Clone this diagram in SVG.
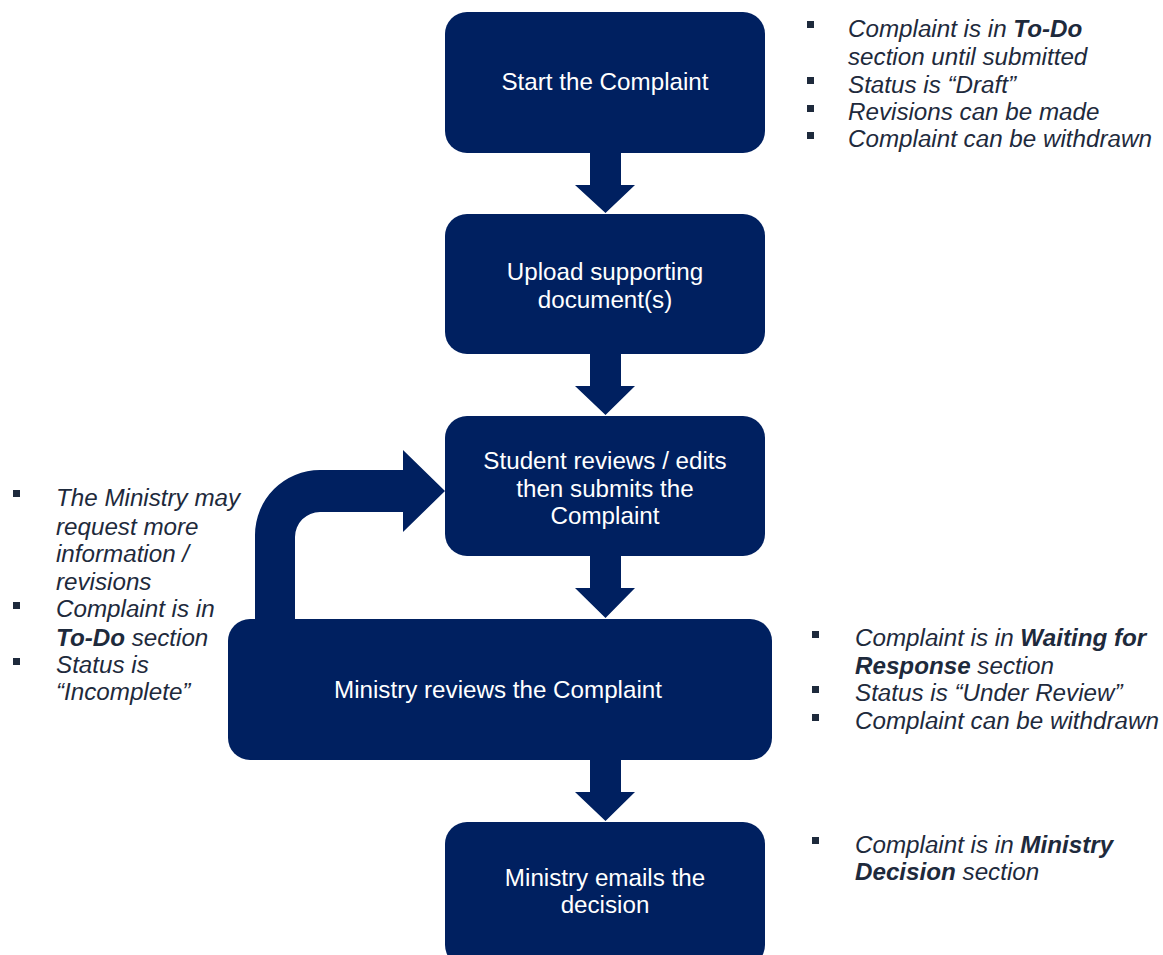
<svg xmlns="http://www.w3.org/2000/svg" width="1163" height="955" viewBox="0 0 1163 955">
<style>
.box{fill:#002060}
.lbl{font-family:"Liberation Sans",Arial,sans-serif;font-size:24.2px;fill:#ffffff;text-anchor:middle}
.note{font-family:"Liberation Sans",Arial,sans-serif;font-size:24.2px;font-style:italic;fill:#1e2a3c}
.b{font-weight:bold}
.sq{fill:#1e2a3c}
.arr{fill:#002060}
</style>
<rect width="1163" height="955" fill="#ffffff"/>
<g id="connectors">
<polygon class="arr" points="590,153 621,153 621,185 635,185 605.5,213 575,185 590,185"/>
<polygon class="arr" points="590,354 621,354 621,386 635,386 605.5,415 575,386 590,386"/>
<polygon class="arr" points="590,556 621,556 621,588 635,588 605.5,618 575,588 590,588"/>
<polygon class="arr" points="590,760 621,760 621,792 635,792 605.5,821 575,792 590,792"/>
<path class="arr" d="M255,622 L255,535 A65,65 0 0 1 320,470 L403,470 L403,450 L445,491 L403,532 L403,512 L320,512 A25,25 0 0 0 295,537 L295,622 Z"/>
</g>
<g id="n1">
<rect class="box" x="445" y="12" width="320" height="141" rx="22"/>
<text class="lbl" x="605" y="90">Start the Complaint</text>
</g>
<g id="n2">
<rect class="box" x="445" y="214" width="320" height="140" rx="22"/>
<text class="lbl" x="605" y="280">Upload supporting</text>
<text class="lbl" x="605" y="308">document(s)</text>
</g>
<g id="n3">
<rect class="box" x="445" y="416" width="320" height="140" rx="22"/>
<text class="lbl" x="605" y="469">Student reviews / edits</text>
<text class="lbl" x="605" y="497">then submits the</text>
<text class="lbl" x="605" y="524">Complaint</text>
</g>
<g id="n4">
<rect class="box" x="228" y="619" width="544" height="141" rx="22"/>
<text class="lbl" x="498" y="698">Ministry reviews the Complaint</text>
</g>
<g id="n5">
<rect class="box" x="445" y="822" width="320" height="145" rx="22"/>
<text class="lbl" x="605" y="886">Ministry emails the</text>
<text class="lbl" x="605" y="913">decision</text>
</g>
<g id="notes-top">
<rect class="sq" x="807" y="21" width="7" height="7"/>
<rect class="sq" x="807" y="77" width="7" height="7"/>
<rect class="sq" x="807" y="105" width="7" height="7"/>
<rect class="sq" x="807" y="132" width="7" height="7"/>
<text class="note" x="848" y="37">Complaint is in <tspan class="b">To-Do</tspan></text>
<text class="note" x="848" y="65">section until submitted</text>
<text class="note" x="848" y="93">Status is “Draft”</text>
<text class="note" x="848" y="120">Revisions can be made</text>
<text class="note" x="848" y="147">Complaint can be withdrawn</text>
</g>
<g id="notes-left">
<rect class="sq" x="13" y="490" width="7" height="7"/>
<rect class="sq" x="13" y="602" width="7" height="7"/>
<rect class="sq" x="13" y="658" width="7" height="7"/>
<text class="note" x="56" y="506">The Ministry may</text>
<text class="note" x="56" y="535">request more</text>
<text class="note" x="56" y="562">information /</text>
<text class="note" x="56" y="590">revisions</text>
<text class="note" x="56" y="617">Complaint is in</text>
<text class="note" x="56" y="646"><tspan class="b">To-Do</tspan> section</text>
<text class="note" x="56" y="673">Status is</text>
<text class="note" x="56" y="700">“Incomplete”</text>
</g>
<g id="notes-mid">
<rect class="sq" x="812" y="631" width="7" height="7"/>
<rect class="sq" x="812" y="686" width="7" height="7"/>
<rect class="sq" x="812" y="714" width="7" height="7"/>
<text class="note" x="855" y="646">Complaint is in <tspan class="b">Waiting for</tspan></text>
<text class="note" x="855" y="674"><tspan class="b">Response</tspan> section</text>
<text class="note" x="855" y="701">Status is “Under Review”</text>
<text class="note" x="855" y="729">Complaint can be withdrawn</text>
</g>
<g id="notes-bottom">
<rect class="sq" x="812" y="837" width="7" height="7"/>
<text class="note" x="855" y="853">Complaint is in <tspan class="b">Ministry</tspan></text>
<text class="note" x="855" y="880"><tspan class="b">Decision</tspan> section</text>
</g>
</svg>
